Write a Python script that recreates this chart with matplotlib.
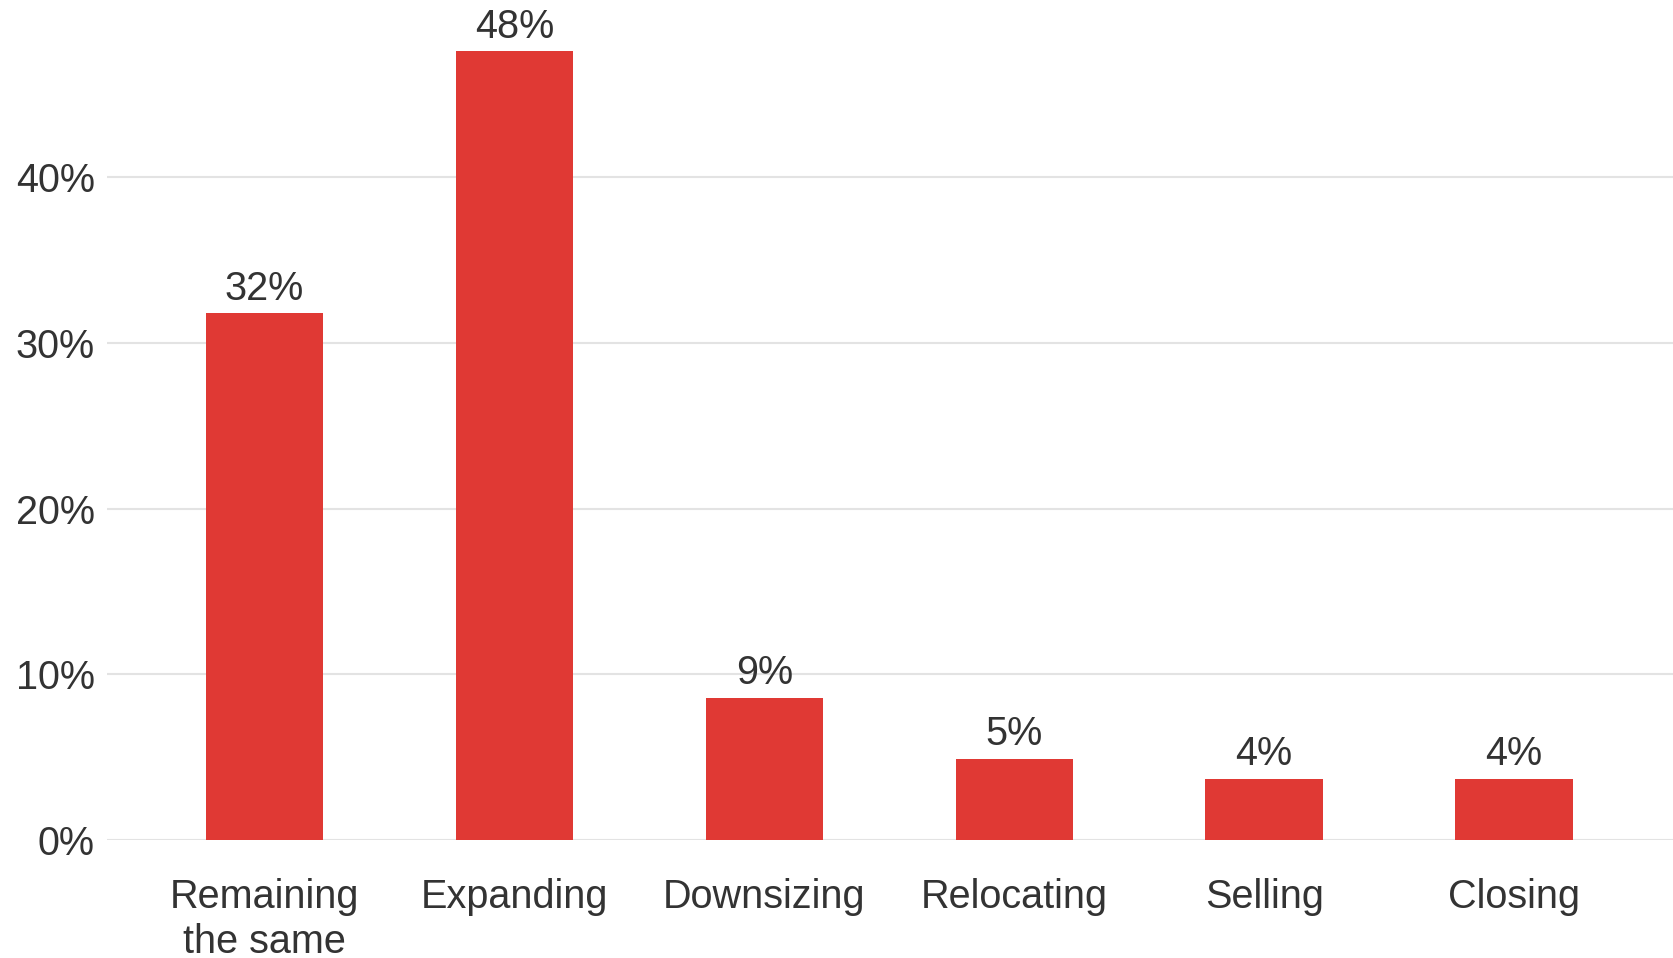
import matplotlib.pyplot as plt
import numpy as np

plt.rcParams['font.family'] = ['Liberation Sans', 'DejaVu Sans']

categories = ['Remaining\nthe same', 'Expanding', 'Downsizing', 'Relocating', 'Selling', 'Closing']
values = [31.8, 47.6, 8.6, 4.9, 3.7, 3.7]
value_labels = ['32%', '48%', '9%', '5%', '4%', '4%']
yticks = [0, 10, 20, 30, 40]
ytick_labels = ['0%', '10%', '20%', '30%', '40%']

bar_color = '#e03934'
text_color = '#333333'
grid_color = '#e3e3e3'
fs = 28.5

fig = plt.figure(figsize=(16.74, 9.58), dpi=100)
ax = fig.add_axes([0.064, 0.123, 0.936, 0.877])

index = np.arange(len(categories))
rects = ax.bar(index, values, 0.47, color=bar_color, zorder=2)

for rect, lab in zip(rects, value_labels):
    ax.annotate(lab, (rect.get_x() + rect.get_width() / 2, rect.get_height()),
                xytext=(0, 4), textcoords='offset points', ha='center', va='bottom',
                fontsize=fs, color=text_color)

ax.set_xlim(-0.63, 5.64)
ax.set_ylim(0, 50.7)
ax.set_yticks(yticks)
ax.set_yticklabels(ytick_labels)
ax.set_xticks(index)
ax.set_xticklabels(categories, linespacing=1.25)

ax.grid(axis='y', color=grid_color, linewidth=1.5, zorder=0)
for s in ax.spines.values():
    s.set_visible(False)
ax.tick_params(axis='both', length=0, labelsize=fs, colors=text_color)
ax.tick_params(axis='y', pad=9)
ax.tick_params(axis='x', pad=27)

plt.savefig('out.png', dpi=100)
